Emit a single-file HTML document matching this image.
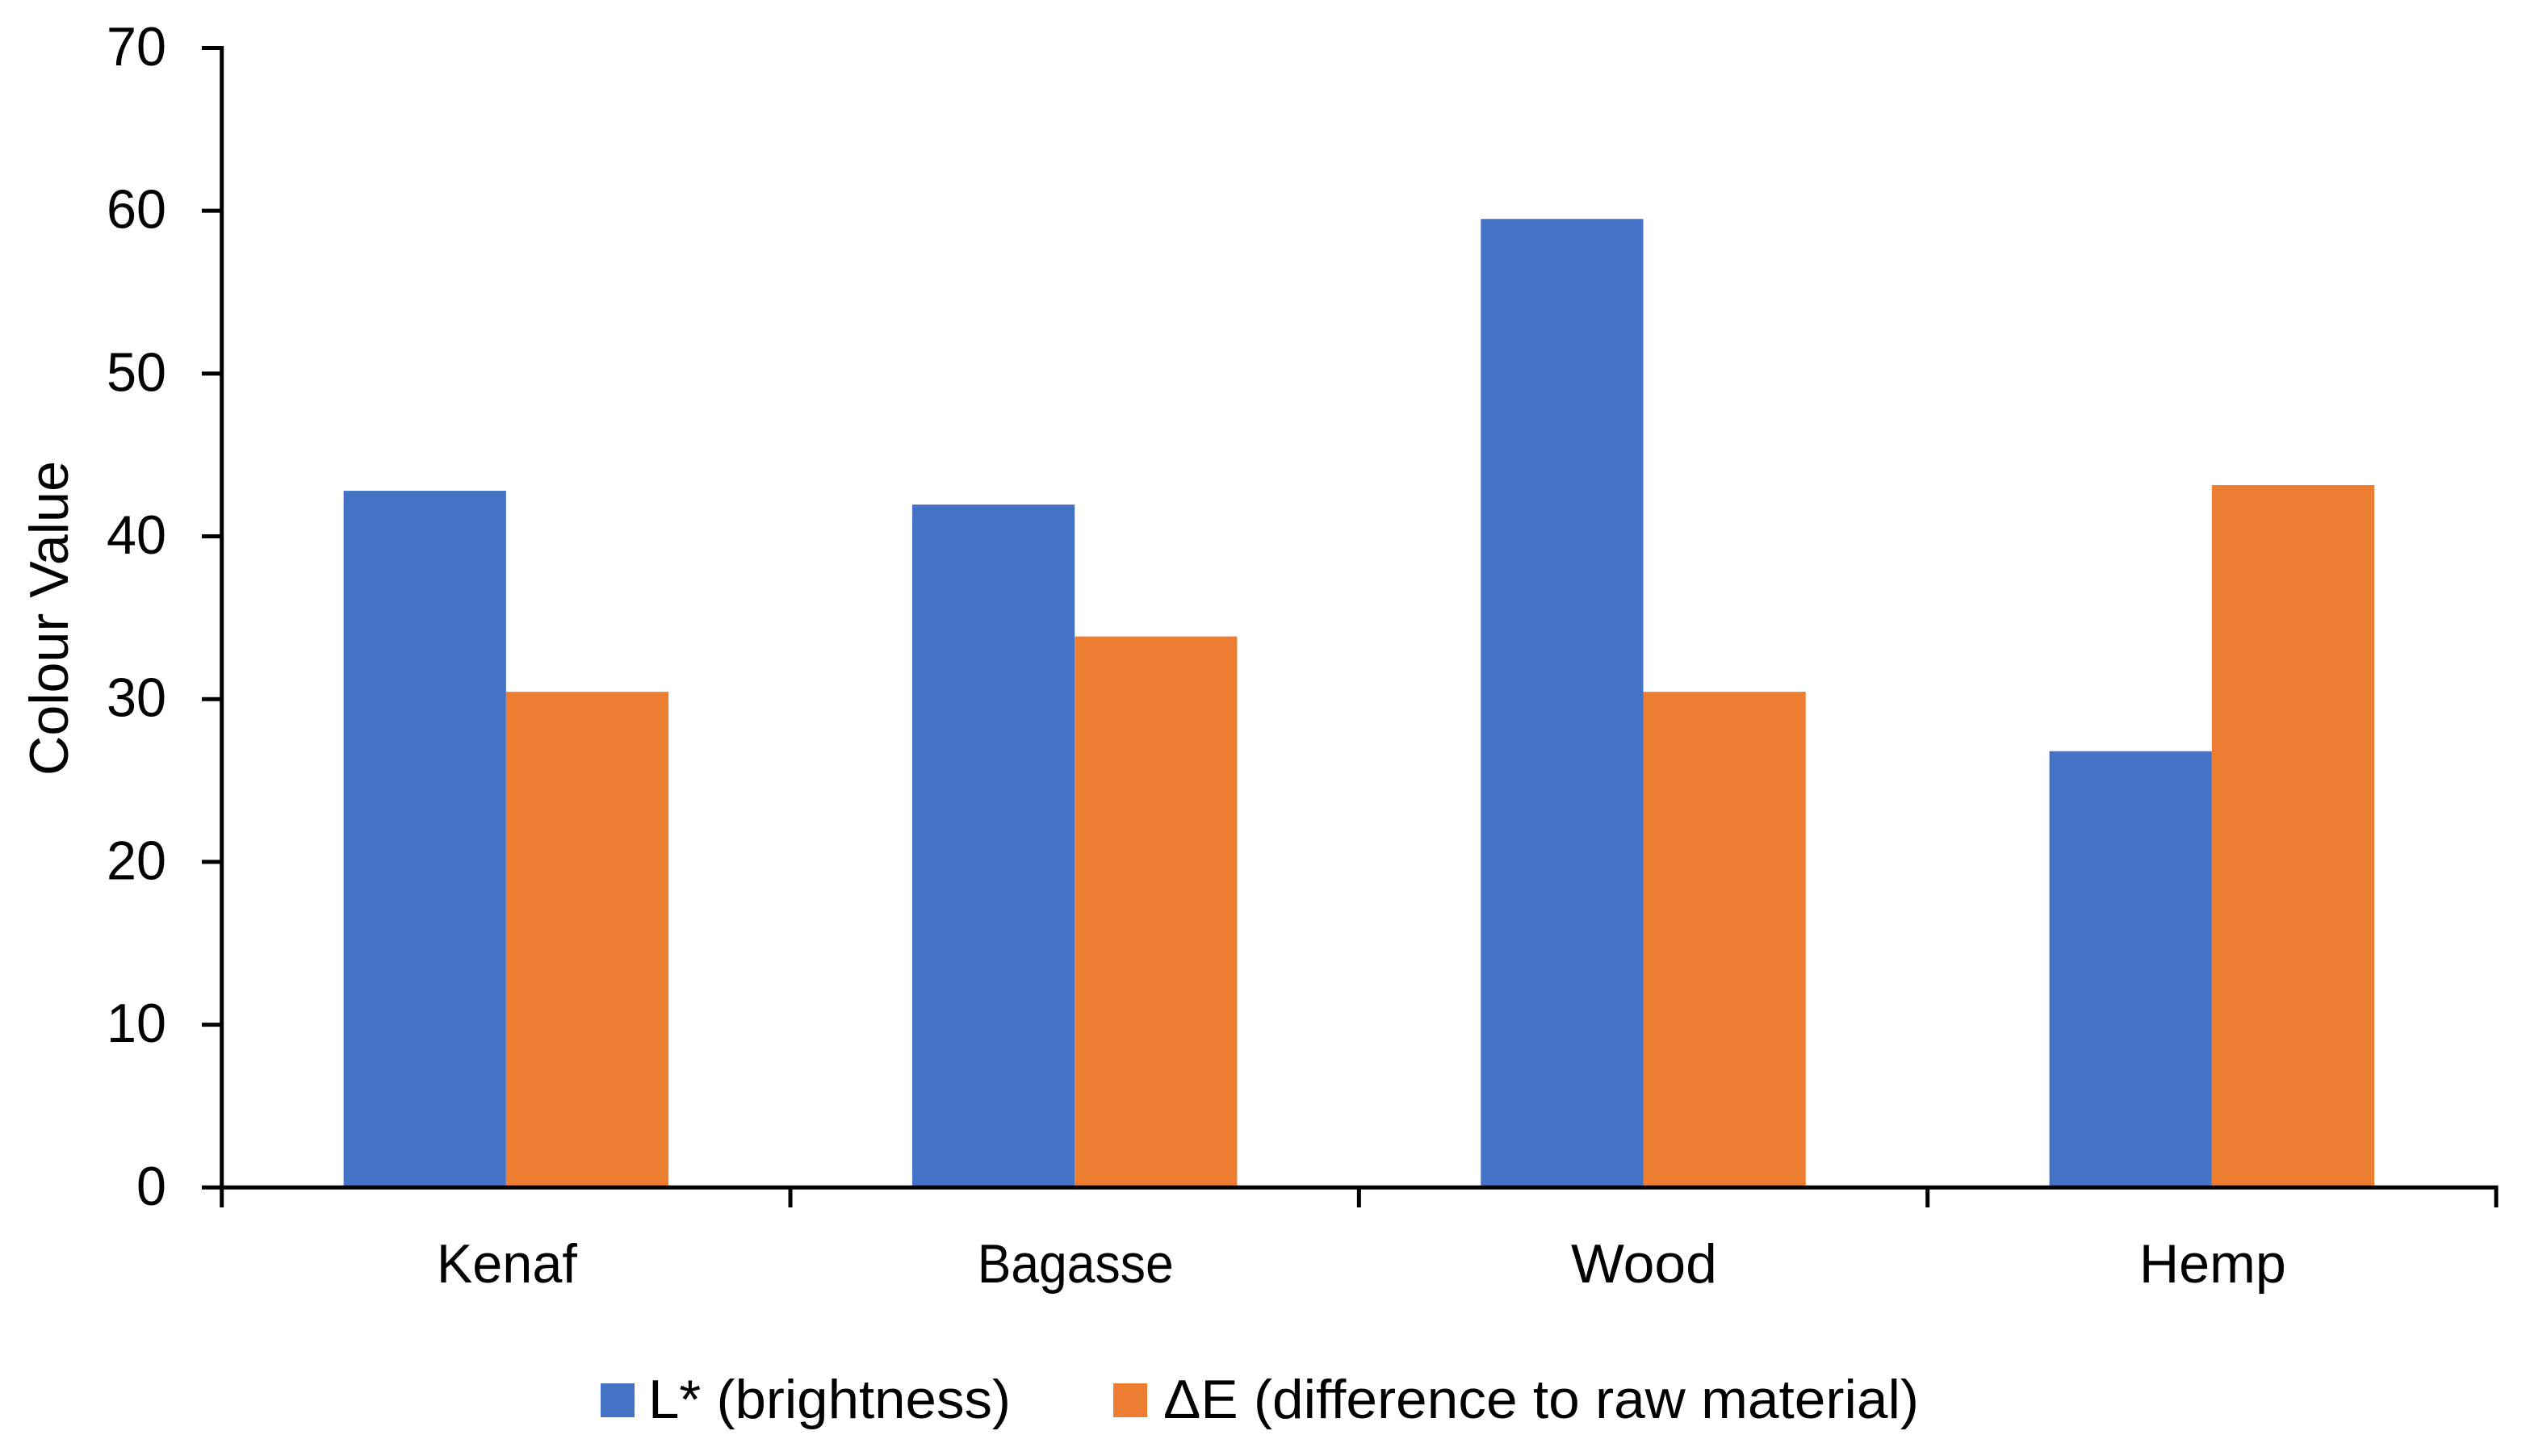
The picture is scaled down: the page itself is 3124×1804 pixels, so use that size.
<!DOCTYPE html>
<html lang="en">
<head>
<meta charset="utf-8">
<title>Colour Value by Fibre Source</title>
<style>
  html, body { margin: 0; padding: 0; background: #ffffff; }
  svg { display: block; }
  text { font-family: "Liberation Sans", sans-serif; font-size: 68px; fill: #000000; }
</style>
</head>
<body>
<svg id="chart" xmlns="http://www.w3.org/2000/svg" width="3124" height="1804" viewBox="0 0 3124 1804">
  <rect x="0" y="0" width="3124" height="1804" fill="#ffffff"/>
  <g id="bars"></g>
  <g id="axes"></g>
  <text transform="translate(84 766) rotate(-90)" text-anchor="middle" textLength="390" lengthAdjust="spacingAndGlyphs">Colour Value</text>
  <g>
    <g>
      <rect x="744" y="1714" width="42" height="42" fill="#4472C4"/>
      <text x="803" y="1757" textLength="449" lengthAdjust="spacingAndGlyphs">L* (brightness)</text>
    </g>
    <g>
      <rect x="1379" y="1714" width="42" height="42" fill="#ED7D31"/>
      <text x="1441" y="1757" textLength="936" lengthAdjust="spacingAndGlyphs">ΔE (difference to raw material)</text>
    </g>
  </g>
</svg>
<script>
const categories = ["Kenaf", "Bagasse", "Wood", "Hemp"];
const brightnessValues = [42.8, 41.95, 59.5, 26.8];
const differenceValues = [30.45, 33.85, 30.45, 43.15];
const yTickLabels = [0, 10, 20, 30, 40, 50, 60, 70];

const NS = "http://www.w3.org/2000/svg";
const plot = { left: 274.7, right: 3092, top: 59.5, bottom: 1471.3, yMax: 70 };
const categoryLabelFit = { Kenaf: 174, Bagasse: 243, Wood: 181, Hemp: 182 };
const barWidth = (plot.right - plot.left) / categories.length / 3.5;
const barsLayer = document.getElementById("bars");
const axesLayer = document.getElementById("axes");

function yScale(v) {
  return plot.bottom - (v / plot.yMax) * (plot.bottom - plot.top);
}
function xBand(i) {
  return plot.left + (i * (plot.right - plot.left)) / categories.length;
}
function xCenter(i) {
  return xBand(i + 0.5);
}
function make(tag, attrs, parent) {
  const el = document.createElementNS(NS, tag);
  for (const k in attrs) el.setAttribute(k, attrs[k]);
  parent.appendChild(el);
  return el;
}
function axisLine(x1, y1, x2, y2) {
  return make("line", { x1: x1, y1: y1, x2: x2, y2: y2, stroke: "#000000", "stroke-width": 5 }, axesLayer);
}

categories.forEach(function (cat, i) {
  const c = xCenter(i);
  const slug = cat.toLowerCase();

  const a = make("rect", { x: c - barWidth, y: yScale(brightnessValues[i]), width: barWidth, height: yScale(0) - yScale(brightnessValues[i]), fill: "#4472C4" }, barsLayer);
  
  

  const b = make("rect", { x: c, y: yScale(differenceValues[i]), width: barWidth, height: yScale(0) - yScale(differenceValues[i]), fill: "#ED7D31" }, barsLayer);
  
  

  const label = make("text", { x: c + 1, y: 1589, "text-anchor": "middle", textLength: categoryLabelFit[cat] || 180, lengthAdjust: "spacingAndGlyphs" }, axesLayer);
  label.textContent = cat;
  
  
});

const yAxisLine = axisLine(plot.left, plot.top - 2.5, plot.left, plot.bottom);



const xAxisLine = axisLine(plot.left - 2.5, plot.bottom, plot.right + 2.5, plot.bottom);



yTickLabels.forEach(function (v) {
  const y = yScale(v);
  const tick = axisLine(250, y, plot.left, y);
  
  

  const str = String(v);
  const label = make("text", { x: 206, y: y + 21.5, "text-anchor": "end", textLength: 37 * str.length, lengthAdjust: "spacingAndGlyphs" }, axesLayer);
  label.textContent = str;
  
  
});

for (let i = 0; i <= categories.length; i++) {
  const x = xBand(i);
  const tick = axisLine(x, plot.bottom, x, 1496);
  
  
}
</script>
</body>
</html>
